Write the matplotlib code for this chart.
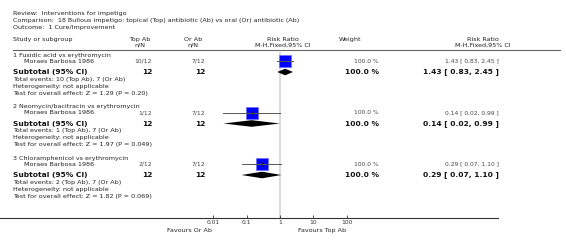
import matplotlib.pyplot as plt
import numpy as np

# data
review = "Review:  Interventions for impetigo"
comparison = "Comparison:  18 Bullous impetigo: topical (Top) antibiotic (Ab) vs oral (Or) antibiotic (Ab)"
outcome = "Outcome:  1 Cure/Improvement"
groups = ["1 Fusidic acid vs erythromycin",
          "2 Neomycin/bacitracin vs erythromycin",
          "3 Chloramphenicol vs erythromycin"]
studies = ["Moraes Barbosa 1986", "Moraes Barbosa 1986", "Moraes Barbosa 1986"]
top_events = [10, 1, 2]
top_n = [12, 12, 12]
or_events = [7, 7, 7]
or_n = [12, 12, 12]
weights = [100.0, 100.0, 100.0]
rr = [1.43, 0.14, 0.29]
ci_low = [0.83, 0.02, 0.07]
ci_high = [2.45, 0.99, 1.10]
z_vals = ["1.29", "1.97", "1.82"]
p_vals = ["0.20", "0.049", "0.069"]
ticks = [0.01, 0.1, 1, 10, 100]
tick_labels = ["0.01", "0.1", "1", "10", "100"]

W, H = 566, 249
fig = plt.figure(figsize=(W / 100, H / 100), dpi=100)

# text layer in pixel units
tx = fig.add_axes([0, 0, 1, 1])
tx.set_xlim(0, W)
tx.set_ylim(H, 0)
tx.axis('off')

# forest layer: log x, y in the same pixel rows, bottom spine = axis line
axis_y = 218
px_dec = 33.3
x_one = 280
fx = fig.add_axes([0, (H - axis_y) / H, 498 / W, axis_y / H])
fx.set_xscale('log')
fx.set_xlim(10 ** ((0 - x_one) / px_dec), 10 ** ((498 - x_one) / px_dec))
fx.set_ylim(axis_y, 0)
fx.patch.set_alpha(0)
for s in ['top', 'right', 'left']:
    fx.spines[s].set_visible(False)
fx.spines['bottom'].set_linewidth(0.8)
fx.spines['bottom'].set_color('#333333')
fx.set_yticks([])
fx.set_xticks(ticks)
fx.set_xticklabels(tick_labels)
fx.minorticks_off()
fx.tick_params(axis='x', direction='in', length=2.5, width=0.6, pad=1.5,
               labelsize=4.3, colors='#333333')

txt = dict(fontsize=4.6, color='#222222', va='center')
small = dict(fontsize=4.3, color='#444444', va='center')
bold = dict(fontsize=5.4, fontweight='bold', color='#111111', va='center')

tx.text(13, 13, review, **txt)
tx.text(13, 20, comparison, **txt)
tx.text(13, 27, outcome, **txt)
tx.text(13, 39, "Study or subgroup", **txt)
tx.text(140, 39, "Top Ab", ha='center', **txt)
tx.text(140, 45, "n/N", ha='center', **txt)
tx.text(193, 39, "Or Ab", ha='center', **txt)
tx.text(193, 45, "n/N", ha='center', **txt)
tx.text(283, 39, "Risk Ratio", ha='center', **txt)
tx.text(283, 45, "M-H,Fixed,95% CI", ha='center', **txt)
tx.text(350, 39, "Weight", ha='center', **txt)
tx.text(483, 39, "Risk Ratio", ha='center', **txt)
tx.text(483, 45, "M-H,Fixed,95% CI", ha='center', **txt)
tx.plot([13, 560], [50, 50], color='#666666', lw=0.8)

fx.axvline(1, ymin=0, ymax=1 - 53 / axis_y, color='#dddddd', lw=1.6, zorder=0)

for i, g in enumerate(groups):
    y0 = 55 + i * 51.5
    ys, ysub = y0 + 6, y0 + 17
    tx.text(13, y0, g, **txt)
    tx.text(24, ys, studies[i], **txt)
    tx.text(152, ys, f"{top_events[i]}/{top_n[i]}", ha='right', **small)
    tx.text(205, ys, f"{or_events[i]}/{or_n[i]}", ha='right', **small)
    tx.text(379, ys, f"{weights[i]:.1f} %", ha='right', **small)
    tx.text(499, ys, f"{rr[i]:.2f} [ {ci_low[i]:.2f}, {ci_high[i]:.2f} ]", ha='right', **small)

    tx.text(13, ysub, "Subtotal (95% CI)", **bold)
    tx.text(153, ysub, f"{sum([top_n[i]])}", ha='right', **bold)
    tx.text(206, ysub, f"{sum([or_n[i]])}", ha='right', **bold)
    tx.text(379, ysub, f"{weights[i]:.1f} %", ha='right', **bold)
    tx.text(499, ysub, f"{rr[i]:.2f} [ {ci_low[i]:.2f}, {ci_high[i]:.2f} ]", ha='right', **bold)
    tx.text(13, ysub + 7, f"Total events: {top_events[i]} (Top Ab), {or_events[i]} (Or Ab)", **txt)
    tx.text(13, ysub + 14, "Heterogeneity: not applicable", **txt)
    tx.text(13, ysub + 21, f"Test for overall effect: Z = {z_vals[i]} (P = {p_vals[i]})", **txt)

    # study square and CI
    fx.plot(rr[i], ys, marker='s', markersize=9.3, color='#0000ff',
            markeredgecolor='#6f6fff', markeredgewidth=0.5, zorder=3)
    fx.plot([ci_low[i], ci_high[i]], [ys, ys], color='#555555', lw=0.7, zorder=4)
    fx.plot(rr[i], ys, marker='|', markersize=2.5, color='#222222', mew=0.5, zorder=5)
    # subtotal diamond
    fx.fill([ci_low[i], rr[i], ci_high[i], rr[i]], [ysub, ysub - 3.3, ysub, ysub + 3.3],
            color='black', zorder=3, lw=0)

tx.text(212, 230, "Favours Or Ab", ha='right', **txt)
tx.text(298, 230, "Favours Top Ab", ha='left', **txt)

fig.savefig("out.png", dpi=100)
